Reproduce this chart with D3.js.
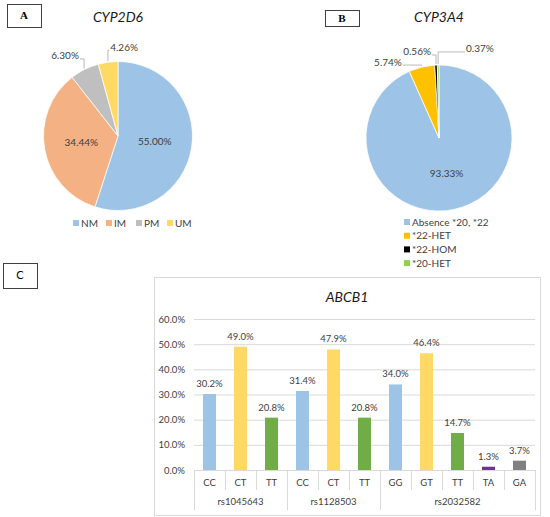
<!DOCTYPE html>
<html>
<head>
<meta charset="utf-8">
<script src="https://cdn.jsdelivr.net/npm/d3@7"></script>
<style>
  body { margin: 0; background: #fff; }
  text { font-family: Lato, "Open Sans", sans-serif; }
</style>
</head>
<body>
<script>
// --- data ---
const cyp2d6Labels = ["NM", "IM", "PM", "UM"];
const cyp2d6Values = [55.00, 34.44, 6.30, 4.26];
const cyp2d6Colors = ["#9DC3E6", "#F4B183", "#BFBFBF", "#FFD966"];

const cyp3a4Labels = ["Absence *20, *22", "*22-HET", "*22-HOM", "*20-HET"];
const cyp3a4Values = [93.33, 5.74, 0.56, 0.37];
const cyp3a4Colors = ["#9DC3E6", "#FFC000", "#000000", "#92D050"];

const abcbGenotypes = ["CC", "CT", "TT", "CC", "CT", "TT", "GG", "GT", "TT", "TA", "GA"];
const abcbSnps = ["rs1045643", "rs1128503", "rs2032582"];
const abcbSnpSizes = [3, 3, 5];
const abcbValues = [30.2, 49.0, 20.8, 31.4, 47.9, 20.8, 34.0, 46.4, 14.7, 1.3, 3.7];
const abcbColors = ["#9DC3E6", "#FFD966", "#70AD47", "#9DC3E6", "#FFD966", "#70AD47",
                    "#9DC3E6", "#FFD966", "#70AD47", "#7030A0", "#808080"];
const abcbTicks = [0, 10, 20, 30, 40, 50, 60];

const svg = d3.select("body").append("svg")
  .attr("width", 550)
  .attr("height", 517);

svg.append("rect").attr("width", 550).attr("height", 517).attr("fill", "#fff");

// panel letter boxes
function letterBox(x, y, w, h, letter, serif) {
  svg.append("rect")
    .attr("x", x + 0.5).attr("y", y + 0.5)
    .attr("width", w).attr("height", h)
    .attr("fill", "#fff").attr("stroke", "#404040").attr("stroke-width", 1);
  svg.append("text")
    .attr("x", x + w / 2).attr("y", y + h / 2)
    .attr("dy", "0.36em")
    .attr("text-anchor", "middle")
    .style("font-family", serif ? "'Liberation Serif', serif" : "Lato, sans-serif")
    .style("font-weight", serif ? "bold" : "normal")
    .style("font-size", "11px")
    .text(letter);
}
letterBox(7, 4, 34, 23, "A", true);
letterBox(325, 10, 34, 16, "B", true);
letterBox(3, 263, 34, 25, "C", false);

// pie panel
function drawPie(opt) {
  const g = svg.append("g").attr("transform", `translate(${opt.cx},${opt.cy})`);
  const pie = d3.pie().sort(null).value(d => d);
  const arcs = pie(opt.values);
  const arc = d3.arc().innerRadius(0).outerRadius(opt.r);

  g.selectAll("path.slice")
    .data(arcs)
    .enter().append("path")
    .attr("class", "slice")
    .attr("d", arc)
    .attr("fill", (d, i) => opt.colors[i])
    .attr("stroke", "#fff")
    .attr("stroke-width", 0.75);

  // title
  svg.append("text")
    .attr("x", opt.cx).attr("y", opt.titleY)
    .attr("text-anchor", "middle")
    .style("font-style", "italic")
    .style("font-size", "14px")
    .style("fill", "#1a1a1a")
    .text(opt.title);

  arcs.forEach((d, i) => {
    const txt = opt.values[i].toFixed(2) + "%";
    const spot = opt.outside[i];
    if (!spot) {
      const c = arc.centroid(d);
      g.append("text")
        .attr("x", c[0]).attr("y", c[1])
        .attr("dy", "0.35em")
        .attr("text-anchor", "middle")
        .style("font-size", "10px")
        .style("fill", "#404040")
        .text(txt);
      return;
    }
    // outside label with leader line
    const a = spot[0] * Math.PI / 180;
    const lx = spot[1] * Math.sin(a), ly = -spot[1] * Math.cos(a);
    const t = g.append("text")
      .attr("x", lx).attr("y", ly)
      .attr("dy", "0.35em")
      .attr("text-anchor", "middle")
      .style("font-size", "10px")
      .style("fill", "#404040")
      .text(txt);
    const w = t.node().getComputedTextLength();
    const mid = (d.startAngle + d.endAngle) / 2;
    const sx = (opt.r + 1) * Math.sin(mid), sy = -(opt.r + 1) * Math.cos(mid);
    const ex = lx < sx ? lx + w / 2 + 1 : lx - w / 2 - 1;
    const ey = ly + 3;
    g.append("path")
      .attr("d", d3.line()([[sx, sy], [sx, ey], [ex, ey]]))
      .attr("fill", "none")
      .attr("stroke", "#A6A6A6")
      .attr("stroke-width", 0.8);
  });

  // legend
  const leg = svg.append("g");
  opt.labels.forEach((lab, i) => {
    const p = opt.legendPos(i);
    leg.append("rect")
      .attr("x", p[0]).attr("y", p[1] - 3)
      .attr("width", 6).attr("height", 6)
      .attr("fill", opt.colors[i]);
    leg.append("text")
      .attr("x", p[0] + 8).attr("y", p[1])
      .attr("dy", "0.35em")
      .style("font-size", "10px")
      .style("fill", "#404040")
      .text(lab);
  });
}

const legendAx = [73, 106, 136, 167];
drawPie({
  cx: 118, cy: 136, r: 74.5, titleY: 22, title: "CYP2D6",
  values: cyp2d6Values, colors: cyp2d6Colors, labels: cyp2d6Labels,
  outside: [null, null, [326.5, 96], [3.9, 89]],
  legendPos: i => [legendAx[i], 223]
});

drawPie({
  cx: 439, cy: 138, r: 73, titleY: 22, title: "CYP3A4",
  values: cyp3a4Values, colors: cyp3a4Colors, labels: cyp3a4Labels,
  outside: [null, [326.1, 91.5], [345.7, 88.8], [24.7, 98]],
  legendPos: i => [404, 222 + i * 13.7]
});

// --- panel C bar chart ---
svg.append("rect")
  .attr("x", 154.5).attr("y", 277.5)
  .attr("width", 386).attr("height", 238)
  .attr("fill", "#fff")
  .attr("stroke", "#D9D9D9");

svg.append("text")
  .attr("x", 347).attr("y", 302)
  .attr("text-anchor", "middle")
  .style("font-style", "italic")
  .style("font-size", "14px")
  .style("fill", "#1a1a1a")
  .text("ABCB1");

const x0 = 194, x1 = 535;
const y = d3.scaleLinear().domain([0, 60]).range([470, 319]);
const x = d3.scaleBand()
  .domain(d3.range(abcbValues.length))
  .range([x0, x1])
  .paddingInner(0.58)
  .paddingOuter(0.29);

const yAxis = svg.append("g")
  .attr("transform", `translate(${x0},0)`)
  .call(d3.axisLeft(y).tickValues(abcbTicks).tickSize(-(x1 - x0)).tickFormat(d => d.toFixed(1) + "%"));
yAxis.select(".domain").remove();
yAxis.selectAll(".tick line").attr("stroke", "#D9D9D9");
yAxis.selectAll(".tick text")
  .attr("x", -9)
  .style("font-size", "9.5px")
  .style("font-family", "Lato, sans-serif")
  .style("fill", "#404040");

svg.selectAll("rect.bar")
  .data(abcbValues)
  .enter().append("rect")
  .attr("class", "bar")
  .attr("x", (d, i) => x(i))
  .attr("y", d => y(d))
  .attr("width", x.bandwidth())
  .attr("height", d => y(0) - y(d))
  .attr("fill", (d, i) => abcbColors[i]);

svg.selectAll("text.val")
  .data(abcbValues)
  .enter().append("text")
  .attr("class", "val")
  .attr("x", (d, i) => x(i) + x.bandwidth() / 2)
  .attr("y", d => y(d) - 7)
  .attr("text-anchor", "middle")
  .style("font-size", "9.5px")
  .style("fill", "#404040")
  .text(d => d.toFixed(1) + "%");

// category axis
const step = (x1 - x0) / abcbGenotypes.length;
svg.append("line")
  .attr("x1", x0).attr("x2", x1)
  .attr("y1", y(0) + 0.5).attr("y2", y(0) + 0.5)
  .attr("stroke", "#D9D9D9");

const groupEdges = [0];
abcbSnpSizes.forEach(s => groupEdges.push(groupEdges[groupEdges.length - 1] + s));

d3.range(abcbGenotypes.length + 1).forEach(i => {
  const isGroup = groupEdges.includes(i);
  svg.append("line")
    .attr("x1", x0 + i * step + 0.5).attr("x2", x0 + i * step + 0.5)
    .attr("y1", y(0)).attr("y2", isGroup ? 510 : 490)
    .attr("stroke", "#D9D9D9");
});

svg.selectAll("text.cat")
  .data(abcbGenotypes)
  .enter().append("text")
  .attr("class", "cat")
  .attr("x", (d, i) => x(i) + x.bandwidth() / 2)
  .attr("y", 483)
  .attr("dy", "0.35em")
  .attr("text-anchor", "middle")
  .style("font-size", "9.5px")
  .style("fill", "#404040")
  .text(d => d);

svg.selectAll("text.snp")
  .data(abcbSnps)
  .enter().append("text")
  .attr("class", "snp")
  .attr("x", (d, i) => x0 + (groupEdges[i] + groupEdges[i + 1]) / 2 * step)
  .attr("y", 502)
  .attr("dy", "0.35em")
  .attr("text-anchor", "middle")
  .style("font-size", "9.5px")
  .style("fill", "#404040")
  .text(d => d);
</script>
</body>
</html>
